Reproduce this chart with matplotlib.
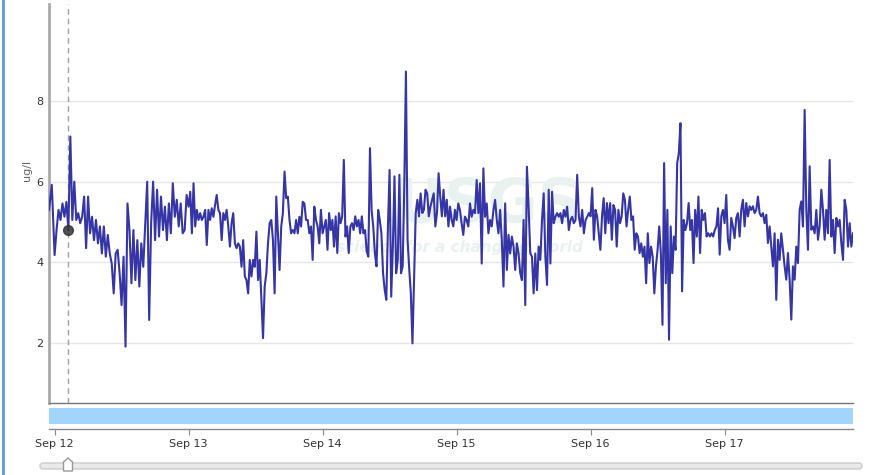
import numpy as np
import pandas as pd
import matplotlib
matplotlib.use("Agg")
import matplotlib.pyplot as plt
import matplotlib.dates as mdates
from matplotlib.patches import FancyBboxPatch, Polygon

# readings (ug/l), one list per day, evenly spaced through the day
START_TAIL = "2023-09-11 23:00"
SEP11_TAIL = [5.30, 5.92]

DAYS = ["2023-09-12", "2023-09-13", "2023-09-14",
        "2023-09-15", "2023-09-16", "2023-09-17"]

SEP12 = [4.18, 4.80, 5.30, 5.05, 5.46, 5.13, 5.50, 4.80, 7.12, 5.05, 6.00, 5.05,
         5.22, 4.97, 5.13, 5.63, 4.35, 5.63, 4.72, 5.13, 4.55, 5.05, 4.47, 4.89,
         4.22, 4.89, 4.14, 4.68, 4.22, 3.97, 3.23, 4.22, 4.31, 3.73, 2.94, 4.14,
         1.91, 5.46, 4.80, 3.48, 4.80, 3.56, 4.55, 3.40, 4.47, 3.89, 4.97, 6.00,
         2.57, 4.97, 6.00, 4.55, 5.80, 4.64, 5.63, 4.80, 5.38, 4.55, 5.46, 4.72,
         5.96, 5.13, 5.55, 4.89, 5.46, 4.72, 4.80, 5.67]

SEP13 = [5.38, 5.75, 4.72, 5.96, 4.89, 5.30, 5.05, 5.22, 5.05, 5.13, 5.30, 4.43,
         5.30, 5.05, 5.34, 5.13, 5.42, 5.67, 5.30, 5.22, 4.55, 5.22, 5.05, 5.30,
         4.89, 4.39, 4.97, 5.22, 4.47, 4.35, 4.47, 4.39, 3.89, 4.55, 3.65, 3.56,
         3.23, 4.06, 3.65, 4.06, 3.89, 4.76, 3.56, 4.06, 3.07, 2.12, 3.40, 3.73,
         4.47, 4.97, 5.05, 4.55, 3.23, 5.63, 4.72, 3.81, 4.89, 5.22, 6.25, 5.59,
         5.63, 5.05, 4.72, 4.80, 4.72, 5.05, 4.72, 5.13, 4.89, 5.50, 5.46, 5.05,
         5.05, 4.72, 4.89, 4.06, 5.38, 5.05, 4.89, 4.47, 5.30]

SEP14 = [4.72, 4.89, 5.05, 4.31, 5.22, 4.80, 5.05, 4.39, 5.14, 4.23, 5.22, 4.97,
         5.14, 6.54, 4.64, 4.89, 4.23, 4.89, 4.97, 4.80, 5.14, 4.89, 5.05, 4.72,
         5.14, 4.72, 4.80, 4.27, 4.14, 6.83, 5.30, 4.89, 4.23, 3.90, 5.30, 5.05,
         4.72, 3.73, 3.32, 3.07, 4.89, 6.29, 3.15, 4.39, 6.13, 3.73, 4.06, 6.17,
         3.73, 3.90, 5.88, 8.73, 4.56, 3.85, 3.23, 1.99, 3.65, 5.22, 5.55, 5.14,
         5.71, 5.22, 5.30, 5.80, 5.71, 5.14, 5.38, 5.55, 5.71, 4.89, 5.22, 6.21,
         5.63, 5.14, 5.80, 5.14, 5.55, 4.89, 5.38, 5.05, 4.89, 5.30]

SEP15 = [5.05, 5.46, 5.30, 4.97, 4.68, 5.13, 5.05, 4.89, 5.46, 5.13, 5.30, 5.22,
         6.04, 5.22, 5.96, 3.97, 6.33, 5.13, 5.46, 4.72, 5.05, 4.89, 5.30, 5.55,
         5.05, 4.72, 5.30, 4.55, 3.40, 5.46, 3.81, 4.68, 4.22, 4.64, 4.39, 3.81,
         4.47, 4.22, 3.73, 3.56, 5.05, 2.94, 6.37, 5.38, 4.22, 4.14, 3.23, 4.22,
         3.31, 4.39, 4.06, 5.05, 5.71, 4.14, 3.44, 5.80, 3.97, 5.75, 4.97, 5.13,
         5.22, 5.13, 5.22, 4.97, 5.30, 5.13, 5.38, 4.80, 5.05, 5.13, 4.97, 5.05,
         6.17, 5.13, 4.89, 5.30, 4.72, 5.05, 5.13, 5.22]

SEP16 = [5.14, 5.84, 4.56, 5.30, 5.14, 4.72, 4.31, 5.14, 5.59, 4.72, 5.47, 4.97,
         5.47, 4.56, 5.42, 5.30, 4.39, 5.30, 4.97, 5.14, 5.71, 5.55, 4.89, 5.30,
         5.63, 5.05, 5.14, 4.31, 4.72, 4.64, 4.23, 4.47, 4.14, 4.39, 3.48, 4.72,
         3.98, 4.39, 4.14, 3.23, 3.90, 4.31, 4.89, 4.23, 2.45, 6.46, 3.48, 5.30,
         2.08, 4.89, 3.73, 4.64, 4.31, 6.46, 6.71, 7.45, 3.28, 5.05, 4.80, 4.97,
         5.47, 4.80, 5.05, 3.98, 5.30, 4.64, 5.63, 4.23, 5.30, 5.05, 5.22, 4.64,
         4.72, 4.64, 4.72, 4.64, 4.80, 4.89, 5.34, 4.19, 5.14, 5.30]

SEP17 = [4.97, 5.67, 4.56, 4.31, 5.10, 4.89, 4.60, 5.10, 5.22, 4.64, 5.30, 5.55,
         4.89, 5.47, 5.14, 5.39, 5.30, 5.39, 5.22, 5.30, 5.63, 5.22, 5.14, 5.22,
         4.97, 5.18, 4.48, 4.89, 4.39, 3.90, 4.72, 3.07, 4.56, 4.06, 4.72, 4.31,
         3.90, 3.57, 4.23, 3.57, 2.58, 3.90, 3.57, 4.39, 3.98, 5.30, 5.51, 4.89,
         7.78, 5.30, 4.31, 6.38, 4.81, 4.89, 4.72, 5.30, 4.56, 4.89, 5.80, 5.30,
         4.56, 5.30, 4.72, 6.54, 4.64, 5.05, 4.23, 5.10, 4.89, 5.05, 4.48, 4.06,
         5.55, 5.30, 4.39, 4.97, 4.39, 4.72]

DAY_VALUES = [SEP12, SEP13, SEP14, SEP15, SEP16, SEP17]
Y_TICKS = [2, 4, 6, 8]
HOVER_INDEX = 9

times = list(pd.Timestamp(START_TAIL) + pd.to_timedelta(np.arange(len(SEP11_TAIL)) * 30, unit="min"))
values = list(SEP11_TAIL)
for i, (day, vals) in enumerate(zip(DAYS, DAY_VALUES)):
    last = i == len(DAYS) - 1
    hrs = np.linspace(0, 23 if last else 24, len(vals), endpoint=last)
    times += list(pd.Timestamp(day) + pd.to_timedelta(hrs, unit="h"))
    values += vals

t = pd.DatetimeIndex(times).values
v = np.array(values)

W, H = 872, 475
fig = plt.figure(figsize=(W / 100, H / 100), dpi=100)

# page decorations (border, range slider)
deco = fig.add_axes([0, 0, 1, 1], zorder=-1)
deco.set_xlim(0, W)
deco.set_ylim(H, 0)
deco.axis("off")
deco.plot([3, 3], [0, H], color="#5b9bd5", lw=2)
deco.add_patch(FancyBboxPatch((40, 463), 822, 6, boxstyle="round,pad=0,rounding_size=3",
                              fc="#e9e9e9", ec="#cccccc", lw=1))
deco.add_patch(Polygon([(63.5, 471), (63.5, 462), (68, 458), (72.5, 462), (72.5, 471)],
                       closed=True, fc="white", ec="#999999", lw=1, zorder=3))

# main chart
ax = fig.add_axes([49 / W, (H - 403) / H, 804 / W, 399 / H])
ax.plot(t, v, color="#3535a6", lw=1.5, zorder=3, solid_joinstyle="round")
ax.set_xlim(t[0], t[-1])
ax.set_ylim(0.512, 10.405)
ax.set_yticks(Y_TICKS)
ax.set_xticks([])
ax.grid(axis="y", color="#e6e6e6", lw=1)
ax.set_axisbelow(True)
ax.tick_params(axis="y", length=0, pad=4, labelsize=8, labelcolor="#333333")
for s in ["top", "right"]:
    ax.spines[s].set_visible(False)
ax.spines["left"].set_color("#aaaaaa")
ax.spines["left"].set_linewidth(2)
ax.spines["bottom"].set_color("#777777")
ax.spines["bottom"].set_linewidth(1)

# faint watermark
ax.text(0.546, 0.496, "USGS", transform=ax.transAxes, ha="center", va="center",
        fontsize=44, fontweight="bold", color="#e9f2ef", zorder=1)
ax.text(0.511, 0.39, "science for a changing world", transform=ax.transAxes,
        ha="center", va="center", fontsize=11, fontweight="bold", style="italic",
        color="#e9f2ef", zorder=1)

# hover crosshair + marker
ax.axvline(t[HOVER_INDEX], color="#a0a0a0", lw=1, ls=(0, (4, 3)), zorder=2)
ax.plot(t[HOVER_INDEX], v[HOVER_INDEX], "o", ms=7, color="#333333", alpha=0.85, zorder=4)

fig.text(27 / W, 1 - 170 / H, "ug/l", rotation=90, ha="center", va="center",
         fontsize=8, color="#666666")

# navigator strip
nav = fig.add_axes([49 / W, (H - 429) / H, 804 / W, 21 / H])
nav.set_xlim(t[0], t[-1])
nav.set_ylim(0, 21)
nav.axhspan(5, 21, color="#a3d4fb", lw=0)
nav.set_yticks([])
nav.xaxis.set_major_locator(mdates.DayLocator())
nav.xaxis.set_major_formatter(mdates.DateFormatter("%b %d"))
nav.tick_params(axis="x", length=4, color="#888888", pad=3, labelsize=8, labelcolor="#333333")
for s in ["top", "right", "left"]:
    nav.spines[s].set_visible(False)
nav.spines["bottom"].set_color("#888888")
nav.spines["bottom"].set_linewidth(1)

fig.savefig("out.png", dpi=100)
